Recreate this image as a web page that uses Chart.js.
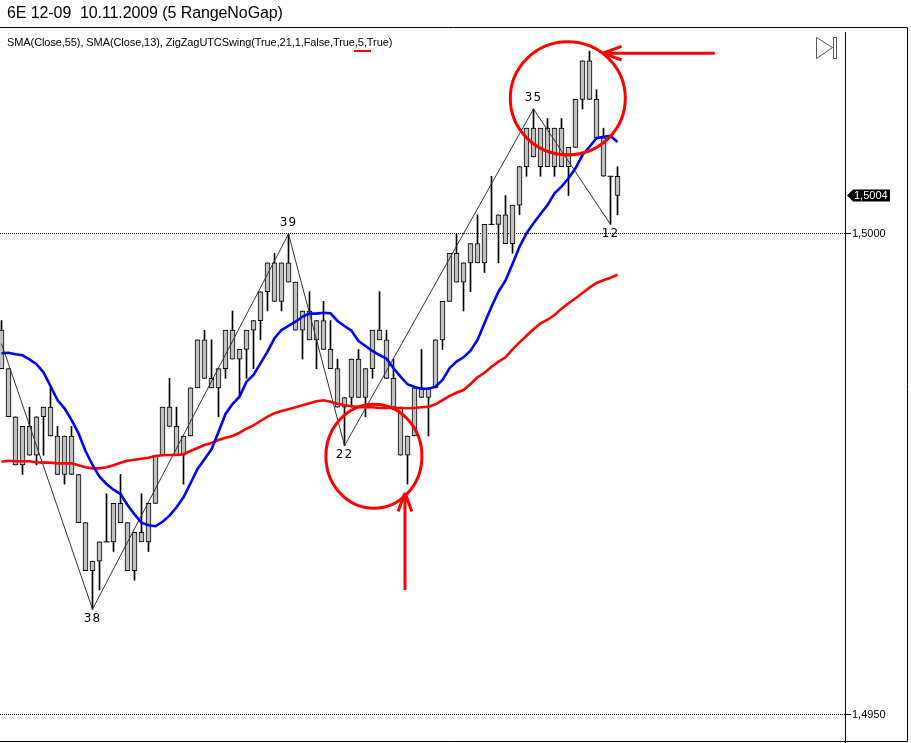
<!DOCTYPE html>
<html>
<head>
<meta charset="utf-8">
<title>6E 12-09</title>
<script src="https://cdn.jsdelivr.net/npm/chart.js@4"></script>
<style>
  body { margin: 0; background: #fff; }
  #wrap { position: relative; width: 911px; height: 743px; overflow: hidden; }
  canvas { position: absolute; left: 0; top: 0; }
  .txt { position: absolute; color: #000; font-family: "Liberation Sans", Arial, sans-serif; white-space: pre; }
  #titulo { left: 7px; top: 4px; font-size: 16px; letter-spacing: -0.09px; }
  #indicadores { left: 7px; top: 36px; font-size: 11px; letter-spacing: -0.09px; }
</style>
</head>
<body>
<div id="wrap">
  <canvas id="grafico" width="911" height="743"></canvas>
  <div class="txt" id="titulo">6E 12-09  10.11.2009 (5 RangeNoGap)</div>
  <div class="txt" id="indicadores">SMA(Close,55), SMA(Close,13), ZigZagUTCSwing(True,21,1,False,True,5,True)</div>
</div>
<script>
// Range bars, one value per bar
const highs = [
  1.4991,1.4986,1.4981,1.4980,1.4982,1.4981,1.4982,1.4984,1.4980,1.4979,
  1.4980,1.4975,1.4970,1.4966,1.4968,1.4973,1.4972,1.4975,1.4970,1.4969,
  1.4973,1.4972,1.4977,1.4982,1.4985,1.4982,1.4979,1.4984,1.4989,1.4990,
  1.4989,1.4986,1.4990,1.4992,1.4988,1.4990,1.4991,1.4994,1.4997,1.4998,
  1.4997,1.5000,1.4995,1.4992,1.4994,1.4991,1.4993,1.4991,1.4987,1.4983,
  1.4987,1.4988,1.4986,1.4990,1.4994,1.4990,1.4987,1.4982,1.4979,1.4984,
  1.4988,1.4984,1.4989,1.4993,1.4998,1.5000,1.4997,1.4999,1.5002,1.5001,
  1.5006,1.5002,1.5004,1.5003,1.5007,1.5011,1.5013,1.5011,1.5012,1.5011,
  1.5012,1.5009,1.5014,1.5018,1.5019,1.5015,1.5011,1.5006,1.5007
];
const bodyTops = [
  1.4990,1.4986,1.4981,1.4980,1.4980,1.4981,1.4982,1.4982,1.4979,1.4979,
  1.4979,1.4975,1.4970,1.4966,1.4968,1.4968,1.4972,1.4972,1.4970,1.4969,
  1.4969,1.4972,1.4977,1.4982,1.4982,1.4980,1.4979,1.4984,1.4989,1.4989,
  1.4985,1.4986,1.4990,1.4990,1.4988,1.4990,1.4991,1.4994,1.4997,1.4997,
  1.4997,1.4997,1.4995,1.4992,1.4992,1.4991,1.4991,1.4988,1.4986,1.4983,
  1.4987,1.4987,1.4986,1.4990,1.4990,1.4989,1.4985,1.4982,1.4979,1.4984,
  1.4984,1.4984,1.4989,1.4993,1.4998,1.4998,1.4997,1.4999,1.4999,1.5001,
  1.5001,1.5002,1.5002,1.5003,1.5007,1.5011,1.5011,1.5011,1.5011,1.5011,
  1.5011,1.5009,1.5014,1.5018,1.5018,1.5014,1.5010,1.5006,1.5006
];
const bodyBottoms = [
  1.4986,1.4981,1.4976,1.4976,1.4977,1.4977,1.4981,1.4979,1.4975,1.4975,
  1.4975,1.4970,1.4965,1.4965,1.4966,1.4968,1.4968,1.4970,1.4965,1.4965,
  1.4968,1.4968,1.4972,1.4977,1.4980,1.4977,1.4977,1.4979,1.4984,1.4985,
  1.4984,1.4984,1.4986,1.4987,1.4987,1.4988,1.4990,1.4991,1.4994,1.4993,
  1.4993,1.4995,1.4990,1.4990,1.4989,1.4989,1.4988,1.4986,1.4982,1.4982,
  1.4983,1.4983,1.4983,1.4986,1.4989,1.4985,1.4982,1.4977,1.4977,1.4979,
  1.4983,1.4983,1.4984,1.4989,1.4993,1.4995,1.4995,1.4997,1.4997,1.4997,
  1.5001,1.5001,1.4999,1.4999,1.5003,1.5007,1.5008,1.5007,1.5007,1.5007,
  1.5007,1.5007,1.5009,1.5014,1.5014,1.5010,1.5006,1.5006,1.5004
];
const lows = [
  1.4986,1.4981,1.4976,1.4975,1.4977,1.4976,1.4977,1.4979,1.4975,1.4974,
  1.4975,1.4970,1.4965,1.4961,1.4963,1.4968,1.4967,1.4970,1.4965,1.4964,
  1.4968,1.4967,1.4972,1.4977,1.4980,1.4977,1.4974,1.4979,1.4984,1.4985,
  1.4984,1.4981,1.4985,1.4987,1.4983,1.4985,1.4986,1.4989,1.4992,1.4993,
  1.4992,1.4995,1.4990,1.4987,1.4989,1.4986,1.4988,1.4986,1.4982,1.4978,
  1.4982,1.4983,1.4981,1.4985,1.4989,1.4985,1.4982,1.4977,1.4974,1.4979,
  1.4983,1.4979,1.4984,1.4988,1.4993,1.4995,1.4992,1.4994,1.4997,1.4996,
  1.5001,1.4997,1.4999,1.4998,1.5002,1.5006,1.5008,1.5006,1.5007,1.5006,
  1.5007,1.5004,1.5009,1.5013,1.5014,1.5010,1.5006,1.5001,1.5002
];

// SMA(Close,13)
const sma13 = [
  1.498760,1.498766,1.498749,1.498739,1.498697,1.498646,1.498562,1.498420,1.498274,1.498188,
  1.498067,1.497928,1.497744,1.497599,1.497477,1.497401,1.497342,1.497297,1.497183,1.497086,
  1.496999,1.496972,1.496962,1.497009,1.497072,1.497159,1.497263,1.497409,1.497557,1.497658,
  1.497762,1.497942,1.498129,1.498233,1.498309,1.498465,1.498534,1.498656,1.498777,1.498916,
  1.499002,1.499044,1.499088,1.499140,1.499172,1.499172,1.499182,1.499176,1.499096,1.499044,
  1.498995,1.498888,1.498836,1.498784,1.498742,1.498704,1.498604,1.498517,1.498438,1.498410,
  1.498392,1.498392,1.498413,1.498482,1.498604,1.498673,1.498718,1.498787,1.498898,1.499072,
  1.499244,1.499400,1.499517,1.499688,1.499868,1.500007,1.500111,1.500208,1.500301,1.500423,
  1.500492,1.500579,1.500683,1.500821,1.500907,1.500995,1.501011,1.501019,1.500956
];
// SMA(Close,55)
const sma55 = [
  1.497633,1.497643,1.497637,1.497637,1.497637,1.497627,1.497623,1.497623,1.497616,1.497616,
  1.497616,1.497596,1.497575,1.497564,1.497564,1.497575,1.497596,1.497623,1.497643,1.497654,
  1.497664,1.497675,1.497692,1.497700,1.497703,1.497703,1.497710,1.497744,1.497775,1.497807,
  1.497827,1.497859,1.497881,1.497900,1.497934,1.497976,1.498011,1.498056,1.498101,1.498136,
  1.498160,1.498178,1.498199,1.498219,1.498240,1.498261,1.498271,1.498257,1.498236,1.498219,
  1.498209,1.498200,1.498202,1.498199,1.498191,1.498191,1.498191,1.498191,1.498188,1.498191,
  1.498199,1.498205,1.498230,1.498274,1.498316,1.498350,1.498378,1.498441,1.498510,1.498558,
  1.498621,1.498673,1.498718,1.498801,1.498874,1.498943,1.499009,1.499072,1.499109,1.499158,
  1.499224,1.499280,1.499332,1.499387,1.499442,1.499491,1.499519,1.499546,1.499577
];

// ZigZag: vertices, value and the swing size printed beside them
const zigBars = [0, 13, 41, 49, 76, 87];
const zigPrices = [1.49886, 1.4961, 1.5000, 1.4978, 1.5013, 1.5001];
const zigLabels = ['', '38', '39', '22', '35', '12'];
const zigSides = [0, 1, -1, 1, -1, 1]; // 1 = text below the vertex, -1 = above

const yTicks = [1.4950, 1.5000];
const lastPrice = 1.5004;

const barIdx = highs.map((_, i) => i);
const conPonto = new Intl.NumberFormat('de-DE', { minimumFractionDigits: 4, maximumFractionDigits: 4 });

// Hand drawn markup on top of the chart
const marcaVermelha = {
  circulos: [
    { bar: 80.9, preco: 1.50141, rx: 57.5, ry: 56.5 },
    { bar: 53.2, preco: 1.49769, rx: 48, ry: 52 }
  ],
  setas: [
    { de: [101.9, 1.50188], para: [85.9, 1.50188] },
    { de: [57.64, 1.4963], para: [57.64, 1.49731] }
  ]
};

const moldura = {
  id: 'moldura',
  afterDraw(chart) {
    const c = chart.ctx, xs = chart.scales.x, ys = chart.scales.y;
    c.save();

    // frame of the chart window
    c.strokeStyle = '#000';
    c.lineWidth = 1;
    c.beginPath();
    c.moveTo(0, 27.5); c.lineTo(907.5, 27.5); c.lineTo(907.5, 741.5); c.lineTo(0, 741.5);
    c.moveTo(845.5, 741); c.lineTo(845.5, 743);
    c.stroke();

    // go to the last bar icon
    c.strokeStyle = '#555';
    c.beginPath();
    c.moveTo(816.5, 37.5); c.lineTo(832.5, 47.5); c.lineTo(816.5, 58.5); c.closePath();
    c.rect(833.5, 37.5, 3, 21);
    c.stroke();

    // swing sizes
    c.fillStyle = '#000';
    c.font = '12px "DejaVu Sans"';
    c.letterSpacing = '1px';
    c.textAlign = 'center';
    c.textBaseline = 'middle';
    zigLabels.forEach((t, k) => {
      if (!t) return;
      const off = zigSides[k] > 0 ? 9.5 : -11;
      c.fillText(t, xs.getPixelForValue(zigBars[k]), ys.getPixelForValue(zigPrices[k]) + off);
    });
    c.letterSpacing = '0px';

    // last price tag
    const yTag = ys.getPixelForValue(lastPrice);
    c.beginPath();
    c.moveTo(847, yTag);
    c.lineTo(853, yTag - 6);
    c.lineTo(890, yTag - 6);
    c.lineTo(890, yTag + 6);
    c.lineTo(853, yTag + 6);
    c.closePath();
    c.fill();
    c.fillStyle = '#fff';
    c.font = '11px "Liberation Sans"';
    c.textAlign = 'left';
    c.fillText(conPonto.format(lastPrice), 854, yTag + 0.5);

    // red markup
    c.strokeStyle = '#ff0000';
    c.lineWidth = 3;
    marcaVermelha.circulos.forEach(m => {
      c.beginPath();
      c.ellipse(xs.getPixelForValue(m.bar), ys.getPixelForValue(m.preco), m.rx, m.ry, 0, 0, Math.PI * 2);
      c.stroke();
    });
    marcaVermelha.setas.forEach(s => {
      const x0 = xs.getPixelForValue(s.de[0]), y0 = ys.getPixelForValue(s.de[1]);
      const x1 = xs.getPixelForValue(s.para[0]), y1 = ys.getPixelForValue(s.para[1]);
      const a = Math.atan2(y1 - y0, x1 - x0);
      c.beginPath();
      c.moveTo(x0, y0); c.lineTo(x1, y1);
      [-0.35, 0.35].forEach(d => {
        c.moveTo(x1, y1);
        c.lineTo(x1 - 20 * Math.cos(a + d), y1 - 20 * Math.sin(a + d));
      });
      c.stroke();
    });

    // the 5 in the indicator text is underlined
    c.lineWidth = 2;
    c.beginPath();
    c.moveTo(354, 51); c.lineTo(371, 51);
    c.stroke();

    c.restore();
  }
};

const ctx = document.getElementById('grafico').getContext('2d');

new Chart(ctx, {
  type: 'bar',
  plugins: [moldura],
  data: {
    datasets: [
      {
        label: 'SMA(Close,13)', type: 'line', order: 1,
        data: barIdx.map(i => ({ x: i, y: sma13[i] })),
        borderColor: '#0000ff', borderWidth: 2.6, pointRadius: 0, tension: 0
      },
      {
        label: 'SMA(Close,55)', type: 'line', order: 1,
        data: barIdx.map(i => ({ x: i, y: sma55[i] })),
        borderColor: '#ff0000', borderWidth: 2.6, pointRadius: 0, tension: 0
      },
      {
        label: 'ZigZag', type: 'line', order: 2,
        data: zigBars.map((b, k) => ({ x: b, y: zigPrices[k] })),
        borderColor: '#333333', borderWidth: 1, pointRadius: 0
      },
      {
        // bars that opened and closed on the same price
        label: 'Doji', type: 'line', order: 3, showLine: false,
        data: barIdx.filter(i => bodyTops[i] === bodyBottoms[i]).map(i => ({ x: i, y: bodyTops[i] })),
        pointStyle: 'line', pointRadius: 3, pointBorderColor: '#000', pointBorderWidth: 1
      },
      {
        label: 'Corpo', order: 4, grouped: false, barThickness: 5,
        data: barIdx.filter(i => bodyTops[i] !== bodyBottoms[i]).map(i => ({ x: i, y: [bodyBottoms[i], bodyTops[i]] })),
        backgroundColor: '#c0c0c0', borderColor: '#000', borderWidth: 1, borderSkipped: false
      },
      {
        label: 'Pavio', order: 5, grouped: false, barThickness: 1,
        data: barIdx.map(i => ({ x: i, y: [lows[i], highs[i]] })),
        backgroundColor: '#000'
      }
    ]
  },
  options: {
    responsive: false,
    animation: false,
    layout: { autoPadding: false, padding: { top: 32, bottom: 2, left: 0, right: 0 } },
    plugins: { legend: { display: false }, tooltip: { enabled: false } },
    scales: {
      x: {
        type: 'linear',
        display: false,
        offset: false,
        min: -1.5 / 7,
        max: (845 - 1.5) / 7
      },
      y: {
        position: 'right',
        min: 1.4947297,
        max: 1.5020998,
        afterFit(scale) {
          scale.width = 66;
          // autoPadding is off, so no room is kept for half a tick label
          scale.paddingTop = 0;
          scale.paddingBottom = 0;
        },
        afterBuildTicks(scale) { scale.ticks = yTicks.map(v => ({ value: v })); },
        grid: { color: '#000', lineWidth: 1, tickLength: 6, tickColor: '#000', tickBorderDash: [] },
        border: { display: true, color: '#000', width: 1, dash: [1, 1] },
        ticks: {
          color: '#000',
          padding: 1,
          font: { family: '"Liberation Sans"', size: 11 },
          callback: v => conPonto.format(v)
        }
      }
    }
  }
});
</script>
</body>
</html>
